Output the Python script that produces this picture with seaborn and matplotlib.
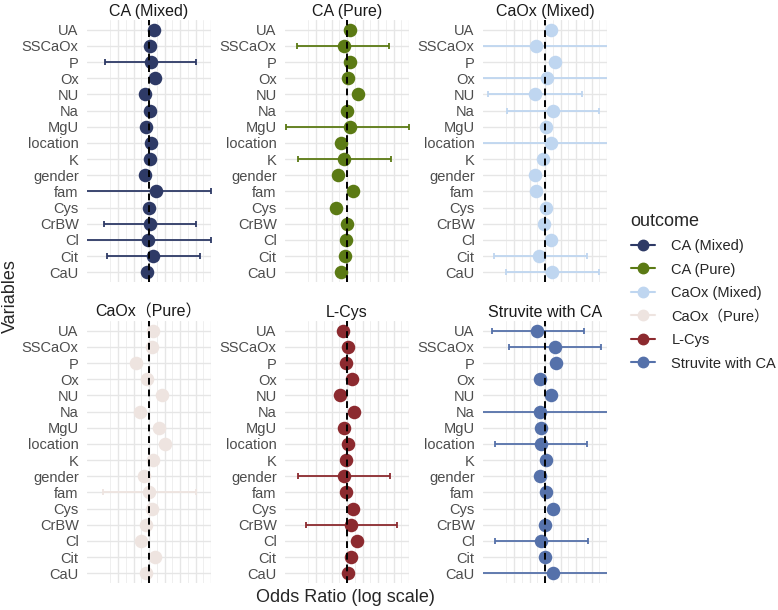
import matplotlib
matplotlib.use("Agg")
import matplotlib.pyplot as plt
from matplotlib.lines import Line2D
from matplotlib.ticker import FixedLocator, NullFormatter
import numpy as np
import pandas as pd
import seaborn as sns

sns.set_style("white")
plt.rcParams["font.family"] = ["Liberation Sans", "Noto Sans CJK SC"]

NaN = np.nan

variables = ["UA", "SSCaOx", "P", "Ox", "NU", "Na", "MgU", "location",
             "K", "gender", "fam", "Cys", "CrBW", "Cl", "Cit", "CaU"]
outcomes = ["CA (Mixed)", "CA (Pure)", "CaOx (Mixed)", "CaOx（Pure）", "L-Cys", "Struvite with CA"]
colors = ["#2E3A66", "#5B7A14", "#BFD6F0", "#EEE4E0", "#8C2A2F", "#5571AA"]

# odds ratios and CI bounds (NaN = CI hidden behind the point)
or_ca_mixed = [1.45, 1.05, 1.12, 1.55, 0.74, 1.05, 0.81, 1.12, 1.10, 0.76, 1.70, 1.02, 1.05, 0.95, 1.35, 0.85]
lo_ca_mixed = [NaN, NaN, 0.038, NaN, NaN, NaN, NaN, NaN, NaN, NaN, 0.008, NaN, 0.035, 0.008, 0.044, NaN]
hi_ca_mixed = [NaN, NaN, 34.0, NaN, NaN, NaN, NaN, NaN, NaN, NaN, 98.0, NaN, 34.0, 98.0, 43.0, NaN]

or_ca_pure = [1.23, 0.78, 1.29, 1.07, 2.24, 1.00, 1.29, 0.62, 0.78, 0.51, 1.55, 0.43, 1.00, 0.95, 0.89, 0.65]
lo_ca_pure = [NaN, 0.024, NaN, NaN, NaN, NaN, 0.0105, NaN, 0.027, NaN, NaN, NaN, NaN, NaN, NaN, NaN]
hi_ca_pure = [NaN, 23.4, NaN, NaN, NaN, NaN, 98.0, NaN, 26.3, NaN, NaN, NaN, NaN, NaN, NaN, NaN]

or_caox_mixed = [1.62, 0.52, 2.09, 1.17, 0.48, 1.82, 1.05, 1.51, 0.89, 0.48, 0.52, 1.05, 0.93, 1.51, 0.65, 1.74]
lo_caox_mixed = [NaN, 0.005, NaN, 0.005, 0.015, 0.059, NaN, 0.005, NaN, NaN, NaN, NaN, NaN, NaN, 0.022, 0.055]
hi_caox_mixed = [NaN, 200.0, NaN, 200.0, 15.1, 53.7, NaN, 200.0, NaN, NaN, NaN, NaN, NaN, NaN, 21.9, 53.7]

or_caox_pure = [1.38, 1.23, 0.38, 0.85, 2.57, 0.51, 2.09, 3.39, 1.38, 0.69, 1.00, 1.29, 0.79, 0.54, 1.55, 0.79]
lo_caox_pure = [NaN, NaN, NaN, NaN, NaN, NaN, NaN, NaN, NaN, NaN, 0.032, NaN, NaN, NaN, NaN, NaN]
hi_caox_pure = [NaN, NaN, NaN, NaN, NaN, NaN, NaN, NaN, NaN, NaN, 32.4, NaN, NaN, NaN, NaN, NaN]

or_lcys = [0.74, 1.05, 0.95, 1.45, 0.58, 1.74, 0.81, 1.05, 0.95, 0.78, 0.91, 1.51, 1.38, 2.09, 1.38, 1.05]
lo_lcys = [NaN, NaN, NaN, NaN, NaN, NaN, NaN, NaN, NaN, 0.027, NaN, NaN, 0.046, NaN, NaN, NaN]
hi_lcys = [NaN, NaN, NaN, NaN, NaN, NaN, NaN, NaN, NaN, 24.5, NaN, NaN, 41.7, NaN, NaN, NaN]

or_struvite = [0.56, 2.04, 2.19, 0.69, 1.51, 0.69, 0.72, 0.72, 1.05, 0.68, 1.05, 1.86, 0.98, 0.72, 0.98, 1.82]
lo_struvite = [0.019, 0.071, NaN, NaN, NaN, 0.005, NaN, 0.025, NaN, NaN, NaN, NaN, NaN, 0.025, NaN, 0.005]
hi_struvite = [17.8, 63.0, NaN, NaN, NaN, 200.0, NaN, 22.9, NaN, NaN, NaN, NaN, NaN, 24.5, NaN, 200.0]

series = [
    (or_ca_mixed, lo_ca_mixed, hi_ca_mixed),
    (or_ca_pure, lo_ca_pure, hi_ca_pure),
    (or_caox_mixed, lo_caox_mixed, hi_caox_mixed),
    (or_caox_pure, lo_caox_pure, hi_caox_pure),
    (or_lcys, lo_lcys, hi_lcys),
    (or_struvite, lo_struvite, hi_struvite),
]

frames = []
for name, (o, lo, hi) in zip(outcomes, series):
    frames.append(pd.DataFrame({"outcome": name, "variable": variables, "OR": o, "lo": lo, "hi": hi}))
df = pd.concat(frames, ignore_index=True)

fig = plt.figure(figsize=(7.78, 6.10), dpi=100)
W, H = 778, 610
col_left = [87, 285, 483]
row_top = [20, 321]
pw, ph = 124, 262

for i, (name, col) in enumerate(zip(outcomes, colors)):
    r, c = divmod(i, 3)
    ax = fig.add_axes([col_left[c] / W, 1 - (row_top[r] + ph) / H, pw / W, ph / H])
    sub = df[df["outcome"] == name]

    ax.set_xscale("log")
    # points first so the category order on y follows `variables`
    sns.scatterplot(data=sub, x="OR", y="variable", color=col, s=95, linewidth=0,
                    legend=False, ax=ax, zorder=3)
    ci = sub.dropna(subset=["lo"])
    ax.errorbar(ci["OR"], ci["variable"], xerr=[ci["OR"] - ci["lo"], ci["hi"] - ci["OR"]],
                fmt="none", ecolor=col, elinewidth=1.3, capsize=2.2, capthick=1.3, zorder=2)
    ax.axvline(1, color="black", ls=(0, (3.5, 2.5)), lw=1.4, zorder=4)

    ax.xaxis.set_major_locator(FixedLocator(10 ** np.arange(-1.0, 2.01, 0.5)))
    ax.xaxis.set_minor_locator(FixedLocator(10 ** np.arange(-1.25, 1.8, 0.5)))
    ax.xaxis.set_major_formatter(NullFormatter())
    ax.xaxis.set_minor_formatter(NullFormatter())
    ax.grid(which="major", axis="both", color="#E6E6E6", lw=1.0)
    ax.grid(which="minor", axis="x", color="#EFEFEF", lw=0.7)
    ax.set_axisbelow(True)

    ax.set_xlim(0.01, 100)
    ax.set_ylim(len(variables) - 0.4, -0.6)
    ax.set_xlabel("")
    ax.set_ylabel("")
    ax.tick_params(axis="both", which="both", length=0)
    ax.tick_params(axis="y", labelsize=10.5, labelcolor="#4D4D4D", pad=6)
    for s in ax.spines.values():
        s.set_visible(False)
    ax.set_title(name, fontsize=11.5, color="#1A1A1A", pad=3)

fig.text(0.444, 0.02, "Odds Ratio (log scale)", ha="center", va="center", fontsize=13)
fig.text(0.014, 0.515, "Variables", ha="center", va="center", rotation=90, fontsize=13)

handles = [Line2D([0], [0], color=c, lw=1.5, marker="o", markersize=7.5) for c in colors]
leg = fig.legend(handles, outcomes, title="outcome", loc="center left",
                 bbox_to_anchor=(0.803, 0.522), frameon=False, fontsize=10.5,
                 title_fontsize=13, handlelength=1.7, handletextpad=1.1,
                 labelspacing=0.65, borderaxespad=0)
leg._legend_box.align = "left"

fig.savefig("out.png", dpi=100)
